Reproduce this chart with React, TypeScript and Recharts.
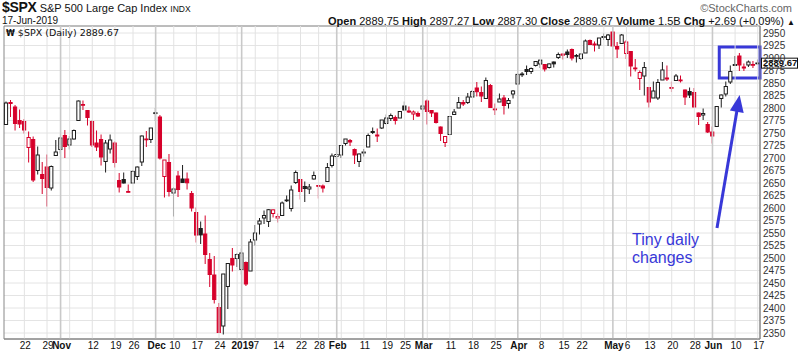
import React from "react";
import {
  ComposedChart,
  Bar,
  XAxis,
  YAxis,
  CartesianGrid,
  ReferenceLine,
  ReferenceArea,
} from "recharts";

// ---------- data ----------
const dates = [
  "18-10-16", "18-10-17", "18-10-18", "18-10-19",
  "18-10-22", "18-10-23", "18-10-24", "18-10-25", "18-10-26",
  "18-10-29", "18-10-30", "18-10-31", "18-11-01", "18-11-02",
  "18-11-05", "18-11-06", "18-11-07", "18-11-08", "18-11-09",
  "18-11-12", "18-11-13", "18-11-14", "18-11-15", "18-11-16",
  "18-11-19", "18-11-20", "18-11-21", "18-11-23",
  "18-11-26", "18-11-27", "18-11-28", "18-11-29", "18-11-30",
  "18-12-03", "18-12-04", "18-12-06", "18-12-07",
  "18-12-10", "18-12-11", "18-12-12", "18-12-13", "18-12-14",
  "18-12-17", "18-12-18", "18-12-19", "18-12-20", "18-12-21",
  "18-12-24", "18-12-26", "18-12-27", "18-12-28",
  "18-12-31", "19-01-02", "19-01-03", "19-01-04",
  "19-01-07", "19-01-08", "19-01-09", "19-01-10", "19-01-11",
  "19-01-14", "19-01-15", "19-01-16", "19-01-17", "19-01-18",
  "19-01-22", "19-01-23", "19-01-24", "19-01-25",
  "19-01-28", "19-01-29", "19-01-30", "19-01-31", "19-02-01",
  "19-02-04", "19-02-05", "19-02-06", "19-02-07", "19-02-08",
  "19-02-11", "19-02-12", "19-02-13", "19-02-14", "19-02-15",
  "19-02-19", "19-02-20", "19-02-21", "19-02-22",
  "19-02-25", "19-02-26", "19-02-27", "19-02-28", "19-03-01",
  "19-03-04", "19-03-05", "19-03-06", "19-03-07", "19-03-08",
  "19-03-11", "19-03-12", "19-03-13", "19-03-14", "19-03-15",
  "19-03-18", "19-03-19", "19-03-20", "19-03-21", "19-03-22",
  "19-03-25", "19-03-26", "19-03-27", "19-03-28", "19-03-29",
  "19-04-01", "19-04-02", "19-04-03", "19-04-04", "19-04-05",
  "19-04-08", "19-04-09", "19-04-10", "19-04-11", "19-04-12",
  "19-04-15", "19-04-16", "19-04-17", "19-04-18",
  "19-04-22", "19-04-23", "19-04-24", "19-04-25", "19-04-26",
  "19-04-29", "19-04-30", "19-05-01", "19-05-02", "19-05-03",
  "19-05-06", "19-05-07", "19-05-08", "19-05-09", "19-05-10",
  "19-05-13", "19-05-14", "19-05-15", "19-05-16", "19-05-17",
  "19-05-20", "19-05-21", "19-05-22", "19-05-23", "19-05-24",
  "19-05-28", "19-05-29", "19-05-30", "19-05-31",
  "19-06-03", "19-06-04", "19-06-05", "19-06-06", "19-06-07",
  "19-06-10", "19-06-11", "19-06-12", "19-06-13", "19-06-14",
  "19-06-17",
];

const opens = [
  2767, 2811, 2802, 2775,
  2773, 2721, 2737, 2675, 2667,
  2682, 2640, 2705, 2717, 2745,
  2726, 2738, 2775, 2807, 2795,
  2773, 2730, 2737, 2693, 2718,
  2730, 2655, 2657, 2633,
  2650, 2663, 2692, 2737, 2737,
  2790.5, 2782, 2663, 2691,
  2630, 2664, 2658, 2658, 2629,
  2591, 2559, 2548, 2497, 2466,
  2401, 2364, 2443, 2499,
  2499, 2477, 2491, 2474,
  2536, 2568, 2580, 2573, 2589,
  2580, 2585, 2615, 2599, 2651,
  2657, 2643, 2638, 2658,
  2645, 2644, 2653, 2685, 2703,
  2706, 2729, 2735, 2717, 2693,
  2712, 2722, 2751, 2744, 2760,
  2769, 2779, 2781, 2780,
  2804, 2792, 2788, 2789, 2798,
  2814, 2795, 2790, 2762, 2731,
  2747, 2787, 2800, 2811, 2811,
  2822, 2840, 2831, 2819, 2845,
  2797, 2812, 2820, 2809, 2828,
  2848, 2868, 2877, 2873, 2885,
  2888, 2887, 2881, 2892, 2901,
  2908, 2912, 2917, 2904,
  2899, 2910, 2935, 2928, 2926,
  2941, 2937, 2952, 2923, 2929,
  2909, 2913, 2880, 2859, 2864,
  2841, 2820, 2820, 2856, 2858,
  2841, 2855, 2856, 2836, 2833,
  2831, 2790, 2786, 2767,
  2752, 2763, 2819, 2828, 2852,
  2885, 2904, 2882, 2886, 2886,
  2890,
];

const highs = [
  2813, 2816, 2806, 2797,
  2778, 2753, 2743, 2723, 2692,
  2707, 2685, 2736, 2742, 2756,
  2744, 2757, 2815, 2815, 2795,
  2775, 2755, 2747, 2736, 2747,
  2733, 2670, 2671, 2647,
  2675, 2683, 2745, 2754, 2760,
  2800, 2786, 2696, 2708,
  2641, 2674, 2686, 2671, 2634,
  2601, 2573, 2585, 2510, 2504,
  2410, 2468, 2489, 2520,
  2509, 2519, 2493, 2538,
  2566, 2580, 2595, 2598, 2597,
  2589, 2613, 2625, 2645, 2675,
  2658, 2653, 2648, 2673,
  2646, 2647, 2690, 2709, 2716,
  2725, 2738, 2738, 2719, 2709,
  2718, 2749, 2761, 2759, 2776,
  2787, 2789, 2785, 2794,
  2813, 2803, 2795, 2793, 2808,
  2817, 2796, 2791, 2763, 2744,
  2784, 2798, 2822, 2816, 2830,
  2836, 2852, 2843, 2861, 2848,
  2809, 2829, 2826, 2820, 2836,
  2869, 2872, 2885, 2881, 2893,
  2896, 2888, 2889, 2893, 2911,
  2909, 2917, 2919, 2908,
  2909, 2937, 2937, 2933, 2940,
  2949, 2948, 2954, 2932, 2948,
  2936, 2914, 2898, 2875, 2892,
  2841, 2853, 2858, 2892, 2885,
  2853, 2868, 2865, 2837, 2841,
  2840, 2791, 2799, 2772,
  2763, 2804, 2827, 2853, 2885,
  2904, 2910, 2889, 2895, 2894,
  2897,
];

const lows = [
  2766, 2782, 2755, 2760,
  2749, 2691, 2652, 2667, 2628,
  2603, 2635, 2705, 2709, 2700,
  2717, 2737, 2774, 2796, 2765,
  2722, 2714, 2685, 2671, 2709,
  2681, 2631, 2649, 2631,
  2650, 2656, 2684, 2722, 2730,
  2774, 2697, 2621, 2623,
  2583, 2622, 2650, 2637, 2593,
  2531, 2528, 2488, 2442, 2409,
  2351, 2347, 2398, 2473,
  2482, 2467, 2444, 2474,
  2525, 2547, 2568, 2562, 2581,
  2571, 2585, 2612, 2593, 2648,
  2617, 2612, 2628, 2657,
  2619, 2631, 2652, 2681, 2697,
  2700, 2725, 2724, 2688, 2682,
  2703, 2722, 2748, 2732, 2758,
  2767, 2774, 2767, 2780,
  2794, 2790, 2776, 2782, 2788,
  2767, 2782, 2769, 2734, 2722,
  2747, 2786, 2800, 2804, 2808,
  2822, 2823, 2812, 2818, 2800,
  2786, 2812, 2787, 2799, 2819,
  2848, 2862, 2866, 2868, 2883,
  2880, 2873, 2879, 2881, 2898,
  2897, 2900, 2895, 2891,
  2896, 2910, 2927, 2913, 2918,
  2936, 2924, 2924, 2900, 2929,
  2898, 2863, 2873, 2836, 2825,
  2801, 2820, 2816, 2856, 2854,
  2832, 2855, 2851, 2806, 2820,
  2801, 2766, 2776, 2750,
  2729, 2763, 2801, 2823, 2848,
  2885, 2874, 2874, 2882, 2880,
  2887,
];

const closes = [
  2810, 2809, 2769, 2768,
  2756, 2741, 2656, 2706, 2659,
  2641, 2683, 2712, 2740, 2723,
  2738, 2755, 2814, 2807, 2781,
  2726, 2722, 2702, 2730, 2736,
  2691, 2642, 2650, 2633,
  2673, 2682, 2744, 2738, 2760,
  2790.4, 2700, 2696, 2633,
  2638, 2637, 2651.1, 2650.5, 2600,
  2545.9, 2546.2, 2507, 2467, 2417,
  2351, 2468, 2489, 2486,
  2507, 2510, 2448, 2532,
  2550, 2574, 2585, 2596.6, 2596.3,
  2583, 2610, 2616, 2636, 2671,
  2633, 2639, 2642, 2665,
  2643.9, 2640, 2681, 2704, 2707,
  2725, 2738, 2732, 2706, 2708,
  2710, 2745, 2753, 2746, 2776,
  2780, 2785, 2775, 2793,
  2796, 2794, 2792, 2784, 2804,
  2793, 2790, 2771, 2749, 2743,
  2783, 2792, 2811, 2808, 2822,
  2832.9, 2832.6, 2824, 2855, 2801,
  2798, 2818, 2805, 2815, 2834,
  2867.2, 2867.3, 2873, 2879, 2893,
  2895.8, 2878, 2888.2, 2888.3, 2907,
  2905.6, 2907, 2900, 2905,
  2908, 2934, 2927, 2926, 2940,
  2943, 2946, 2924, 2918, 2946,
  2932, 2884, 2879, 2871, 2881,
  2812, 2834, 2851, 2876, 2860,
  2840, 2864, 2856, 2822, 2826,
  2802, 2783, 2789, 2752,
  2744, 2803, 2826, 2843, 2873,
  2887, 2886, 2880, 2892, 2887,
  2889.67,
];

const closeBeforeFirst = 2750.8;

const yTicks = [
  2350, 2375, 2400, 2425, 2450, 2475, 2500, 2525, 2550, 2575, 2600, 2625, 2650,
  2675, 2700, 2725, 2750, 2775, 2800, 2825, 2850, 2875, 2900, 2925, 2950,
];

const weekStarts = [
  "18-10-22", "18-10-29", "18-11-05", "18-11-12", "18-11-19", "18-11-26",
  "18-12-10", "18-12-17", "18-12-24", "18-12-31", "19-01-07", "19-01-14",
  "19-01-22", "19-01-28", "19-02-04", "19-02-11", "19-02-19", "19-02-25",
  "19-03-04", "19-03-11", "19-03-18", "19-03-25", "19-04-08", "19-04-15",
  "19-04-22", "19-04-29", "19-05-06", "19-05-13", "19-05-20", "19-05-28",
  "19-06-10", "19-06-17",
];

const monthStarts = [
  "18-11-01", "18-12-03", "19-01-02", "19-02-01", "19-03-01", "19-04-01",
  "19-05-01", "19-06-03",
];

const dayLabels: Record<string, string> = {
  "18-10-22": "22", "18-10-29": "29", "18-11-12": "12", "18-11-19": "19",
  "18-11-26": "26", "18-12-10": "10", "18-12-17": "17", "18-12-24": "24",
  "19-01-07": "7", "19-01-14": "14", "19-01-22": "22", "19-01-28": "28",
  "19-02-11": "11", "19-02-19": "19", "19-02-25": "25", "19-03-11": "11",
  "19-03-18": "18", "19-03-25": "25", "19-04-08": "8", "19-04-15": "15",
  "19-04-22": "22", "19-05-06": "6", "19-05-13": "13", "19-05-20": "20",
  "19-05-28": "28", "19-06-10": "10", "19-06-17": "17",
};

const monthLabels: Record<string, string> = {
  "18-11-01": "Nov", "18-12-03": "Dec", "19-01-02": "2019", "19-02-01": "Feb",
  "19-03-01": "Mar", "19-04-01": "Apr", "19-05-01": "May", "19-06-03": "Jun",
};

const lastClose = 2889.67;
const boxRange = { from: "19-06-05", to: "19-06-17", low: 2860, high: 2922 };
const arrowFrom = { x: "19-06-04", y: 2560 };
const arrowTo = { x: "19-06-11", y: 2826 };

const data = dates.map((d, i) => ({
  d,
  o: opens[i],
  h: highs[i],
  l: lows[i],
  c: closes[i],
  pc: i === 0 ? closeBeforeFirst : closes[i - 1],
  range: [lows[i], highs[i]],
}));

// ---------- styles ----------
const RED = "#d6002a";
const BLACK = "#1c1c1c";
const BLUE = "#3838d8";
const FONT = '"Liberation Sans", Arial, sans-serif';

const CandleShape = (props: any) => {
  const { x, y, width, height, payload } = props;
  if (!payload || x == null) return null;
  const { o, h, l, c, pc } = payload;
  const top = Math.min(y, y + height);
  const span = Math.abs(height);
  const py = (v: number) => (h === l ? top : top + ((h - v) / (h - l)) * span);
  const cx = x + width / 2;
  const red = c < pc;
  const filled = c < o;
  const color = red ? RED : BLACK;
  const bt = py(Math.max(o, c));
  const bb = py(Math.min(o, c));
  const bw = 3.2;
  return (
    <g>
      <line x1={cx} x2={cx} y1={py(h)} y2={py(l)} stroke={color} strokeWidth={1} />
      <rect
        x={cx - bw / 2}
        y={bt}
        width={bw}
        height={Math.max(bb - bt, 0.8)}
        fill={filled ? color : "#ffffff"}
        stroke={color}
        strokeWidth={1}
      />
    </g>
  );
};

const XTick = (props: any) => {
  const { x, y, payload } = props;
  const v = payload && payload.value;
  const m = monthLabels[v];
  const d = dayLabels[v];
  if (!m && !d) return <g />;
  return (
    <text
      x={x + 1}
      y={y}
      dy={10}
      textAnchor="middle"
      fontSize={10}
      fontWeight={m ? 700 : 400}
      fill="#111"
      fontFamily={FONT}
    >
      {m || d}
    </text>
  );
};

const YTick = (props: any) => {
  const { x, y, payload } = props;
  return (
    <text x={x + 3} y={y} dy={3.5} textAnchor="start" fontSize={10} fill="#333" fontFamily={FONT}>
      {payload.value}
    </text>
  );
};

const ArrowShape = (p: any) => {
  const { x1, y1, x2, y2 } = p;
  if (x1 == null) return null;
  const dx = x2 - x1;
  const dy = y2 - y1;
  const len = Math.hypot(dx, dy) || 1;
  const ux = dx / len;
  const uy = dy / len;
  const hl = 17;
  const hw = 7;
  const bx = x2 - ux * hl;
  const by = y2 - uy * hl;
  const nx = -uy;
  const ny = ux;
  return (
    <g>
      <line x1={x1} y1={y1} x2={bx + ux * 2} y2={by + uy * 2} stroke={BLUE} strokeWidth={3} />
      <polygon
        points={`${x2},${y2} ${bx + nx * hw},${by + ny * hw} ${bx - nx * hw},${by - ny * hw}`}
        fill={BLUE}
      />
    </g>
  );
};

const PriceLabel = (props: any) => {
  const vb = props.viewBox || {};
  const xr = (vb.x || 0) + (vb.width || 0);
  const yc = vb.y || 0;
  return (
    <g>
      <rect x={xr + 1.5} y={yc - 5} width={36} height={10} fill="#fff" stroke="#111" strokeWidth={1} />
      <text x={xr + 3} y={yc} dy={3.3} fontSize={9.5} fontWeight={700} fill="#111" fontFamily={FONT}>
        {lastClose.toFixed(2)}
      </text>
    </g>
  );
};

export default function App() {
  return (
    <div
      style={{
        position: "absolute",
        left: 0,
        top: 0,
        width: 800,
        height: 352,
        background: "#fff",
        fontFamily: FONT,
        overflow: "hidden",
      }}
    >
      <ComposedChart
        width={800}
        height={352}
        data={data}
        margin={{ top: 26, right: 0, bottom: 1, left: 4 }}
      >
        <CartesianGrid vertical={false} stroke="#e4e4e4" />
        <XAxis
          dataKey="d"
          interval={0}
          tickLine={false}
          tickSize={0}
          tickMargin={0}
          height={12}
          axisLine={{ stroke: "#888" }}
          tick={<XTick />}
        />
        <YAxis
          orientation="right"
          width={40}
          domain={[2338, 2964]}
          ticks={yTicks}
          interval={0}
          allowDataOverflow
          tickLine={false}
          tickSize={0}
          tickMargin={0}
          axisLine={{ stroke: "#888" }}
          tick={<YTick />}
        />
        {weekStarts.map((d) => (
          <ReferenceLine key={"w" + d} x={d} stroke="#e2e2e2" strokeWidth={1} />
        ))}
        {monthStarts.map((d) => (
          <ReferenceLine key={"m" + d} x={d} stroke="#c9c9c9" strokeWidth={1.6} />
        ))}
        <ReferenceArea y1={2338} y2={2964} fill="none" stroke="#888" strokeWidth={1} />
        <Bar
          dataKey="range"
          barSize={4}
          isAnimationActive={false}
          shape={(p: any) => <CandleShape {...p} />}
        />
        <ReferenceArea
          x1={boxRange.from}
          x2={boxRange.to}
          y1={boxRange.low}
          y2={boxRange.high}
          fill="none"
          stroke={BLUE}
          strokeWidth={3}
          ifOverflow="visible"
        />
        <ReferenceLine
          segment={[arrowFrom, arrowTo]}
          ifOverflow="visible"
          shape={(p: any) => <ArrowShape {...p} />}
        />
        <ReferenceLine
          y={lastClose}
          stroke="none"
          ifOverflow="visible"
          label={(p: any) => <PriceLabel {...p} />}
        />
      </ComposedChart>

      {/* header */}
      <div
        style={{
          position: "absolute",
          left: 2,
          top: 0,
          whiteSpace: "nowrap",
          color: "#111",
          lineHeight: "13px",
          height: 13,
        }}
      >
        <span style={{ fontSize: 14, fontWeight: 700, letterSpacing: -0.3 }}>$SPX</span>
        <span style={{ fontSize: 11 }}> S&amp;P 500 Large Cap Index </span>
        <span style={{ fontSize: 8.5 }}>INDX</span>
      </div>
      <div
        style={{
          position: "absolute",
          right: 8,
          top: 2,
          fontSize: 11,
          lineHeight: "12px",
          color: "#666",
          whiteSpace: "nowrap",
        }}
      >
        ©StockCharts.com
      </div>
      <div
        style={{
          position: "absolute",
          left: 2,
          top: 16,
          fontSize: 10,
          lineHeight: "10px",
          color: "#111",
          whiteSpace: "nowrap",
        }}
      >
        17-Jun-2019
      </div>
      <div
        style={{
          position: "absolute",
          right: 5,
          top: 16,
          fontSize: 11,
          lineHeight: "10px",
          color: "#111",
          whiteSpace: "nowrap",
        }}
      >
        <b>Open</b> 2889.75 <b>High</b> 2897.27 <b>Low</b> 2887.30 <b>Close</b> 2889.67{" "}
        <b>Volume</b> 1.5B <b>Chg</b> +2.69 (+0.09%) <span style={{ fontSize: 8 }}>▲</span>
      </div>
      <div
        style={{
          position: "absolute",
          left: 6,
          top: 27,
          fontSize: 9.5,
          lineHeight: "11px",
          color: "#111",
          whiteSpace: "nowrap",
          fontFamily: '"DejaVu Sans", sans-serif',
        }}
      >
        <span style={{ fontWeight: 700, fontSize: 8 }}>₩</span> $SPX (Daily) 2889.67
      </div>
      <div
        style={{
          position: "absolute",
          left: 632,
          top: 231,
          fontSize: 16,
          lineHeight: "18px",
          color: BLUE,
          whiteSpace: "nowrap",
        }}
      >
        Tiny daily
        <br />
        changes
      </div>
    </div>
  );
}
